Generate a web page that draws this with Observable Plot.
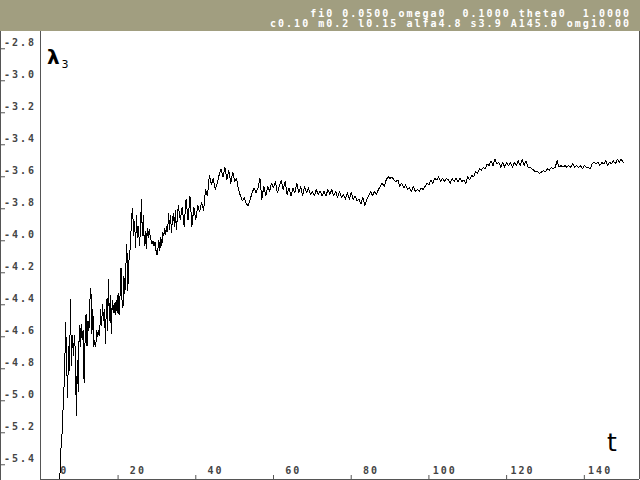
<!DOCTYPE html>
<html><head><meta charset="utf-8">
<script src="https://cdn.jsdelivr.net/npm/d3@7"></script>
<script src="https://cdn.jsdelivr.net/npm/@observablehq/plot@0.6"></script>
<style>
html,body{margin:0;padding:0;background:#fff;}
#hdr{width:640px;height:31px;background:#a19e80;color:#fff;font:bold 10px "DejaVu Sans Mono",monospace;letter-spacing:2px;white-space:pre;text-align:right;box-sizing:border-box;padding:9px 9px 0 0;line-height:10px;}
#chart{position:relative;width:640px;height:449px;}
#chart::before{content:"";position:absolute;left:0;top:0;width:1px;height:449px;background:#555;}
#chart svg{display:block}
#chart svg .mono text, #chart svg text.mono{letter-spacing:2px}
</style></head><body>
<div id="hdr"><div>fi0 0.0500 omega0  0.1000 theta0  1.0000</div><div>c0.10 m0.2 l0.15 alfa4.8 s3.9 A145.0 omg10.00</div></div>
<div id="chart"></div>
<script>
// time sampling
const earlyStart = 0, earlyStep = 0.25;   // t = 0 .. 30
const lateStart = 30.5, lateStep = 0.5;   // t = 30.5 .. 145

// lambda_3 values, t = 0 .. 30 step 0.25
const lambdaEarly = [
  -5.49,-5.31,-5.25,-5.09,-4.97,-4.81,-4.51,-4.75,
  -4.98,-4.66,-4.81,-4.37,-4.78,-4.59,-4.72,-4.59,
  -4.69,-5.09,-4.75,-4.94,-4.53,-4.66,-4.52,-4.62,
  -4.56,-4.89,-4.62,-4.46,-4.66,-4.50,-4.56,-4.37,
  -4.30,-4.58,-4.43,-4.66,-4.62,-4.66,-4.56,-4.60,
  -4.56,-4.59,-4.43,-4.53,-4.40,-4.50,-4.43,-4.64,
  -4.37,-4.56,-4.24,-4.50,-4.34,-4.58,-4.37,-4.45,
  -4.39,-4.46,-4.37,-4.45,-4.33,-4.46,-4.34,-4.17,
  -4.37,-4.42,-4.22,-4.33,-4.16,-4.02,-4.31,-4.13,
  -4.09,-3.98,-3.84,-3.80,-3.97,-3.88,-4.04,-3.84,
  -3.98,-3.91,-4.03,-3.94,-3.74,-3.97,-3.84,-4.03,
  -3.94,-4.05,-3.92,-3.98,-3.93,-3.97,-4.00,-4.02,
  -4.00,-4.03,-4.01,-4.06,-4.09,-4.05,-4.00,-4.06,
  -3.98,-4.03,-3.95,-3.97,-3.92,-3.96,-3.91,-3.94,
  -3.83,-3.93,-3.84,-3.95,-3.86,-3.83,-3.91,-3.81,
  -3.93
];
// lambda_3 values, t = 30.5 .. 145 step 0.5
const lambdaLate = [
  -3.78,-3.87,-3.79,-3.91,-3.74,-3.87,-3.72,-3.91,-3.79,-3.87,
  -3.78,-3.82,-3.76,-3.81,-3.68,-3.72,-3.59,-3.65,-3.61,-3.68,
  -3.64,-3.59,-3.55,-3.60,-3.54,-3.62,-3.56,-3.64,-3.57,-3.63,
  -3.61,-3.68,-3.72,-3.75,-3.73,-3.77,-3.78,-3.74,-3.70,-3.67,
  -3.70,-3.67,-3.61,-3.74,-3.66,-3.72,-3.66,-3.69,-3.64,-3.67,
  -3.63,-3.70,-3.66,-3.62,-3.68,-3.63,-3.71,-3.67,-3.72,-3.67,
  -3.70,-3.64,-3.70,-3.66,-3.72,-3.66,-3.70,-3.67,-3.71,-3.69,
  -3.72,-3.68,-3.71,-3.69,-3.72,-3.69,-3.72,-3.68,-3.71,-3.68,
  -3.72,-3.69,-3.73,-3.69,-3.73,-3.71,-3.74,-3.70,-3.74,-3.70,
  -3.74,-3.72,-3.75,-3.74,-3.77,-3.73,-3.78,-3.74,-3.72,-3.69,
  -3.72,-3.69,-3.71,-3.68,-3.66,-3.64,-3.66,-3.62,-3.60,-3.61,
  -3.60,-3.62,-3.63,-3.62,-3.66,-3.64,-3.67,-3.65,-3.68,-3.67,
  -3.69,-3.66,-3.69,-3.68,-3.69,-3.67,-3.68,-3.66,-3.64,-3.65,
  -3.62,-3.64,-3.61,-3.62,-3.60,-3.63,-3.61,-3.63,-3.61,-3.62,
  -3.64,-3.61,-3.63,-3.61,-3.63,-3.61,-3.63,-3.62,-3.64,-3.60,
  -3.62,-3.59,-3.60,-3.57,-3.58,-3.55,-3.56,-3.54,-3.55,-3.52,
  -3.53,-3.50,-3.53,-3.49,-3.52,-3.51,-3.54,-3.51,-3.54,-3.51,
  -3.53,-3.51,-3.54,-3.51,-3.53,-3.50,-3.53,-3.49,-3.53,-3.50,
  -3.54,-3.54,-3.55,-3.56,-3.57,-3.57,-3.58,-3.57,-3.56,-3.57,
  -3.55,-3.56,-3.54,-3.55,-3.54,-3.50,-3.54,-3.53,-3.54,-3.53,
  -3.54,-3.53,-3.54,-3.52,-3.54,-3.53,-3.54,-3.53,-3.55,-3.53,
  -3.54,-3.54,-3.55,-3.52,-3.51,-3.52,-3.51,-3.53,-3.51,-3.52,
  -3.50,-3.53,-3.51,-3.52,-3.50,-3.52,-3.49,-3.51,-3.49,-3.51
];

// axes
const xDomain = [-4.97, 149.2];
const yDomain = [-5.492, -2.692];
const xTickLabels = [0, 20, 40, 60, 80, 100, 120, 140];
const xTickMarks = [15, 35, 55, 75, 95, 115, 135];
const yTicks = [-2.8,-3.0,-3.2,-3.4,-3.6,-3.8,-4.0,-4.2,-4.4,-4.6,-4.8,-5.0,-5.2,-5.4];

const series = [
  ...lambdaEarly.map((v, i) => ({t: earlyStart + i * earlyStep, v})),
  ...lambdaLate.map((v, i) => ({t: lateStart + i * lateStep, v}))
];

const axisColor = "#555";
const labelFont = {fontFamily: "DejaVu Sans Mono", fontSize: 10, fontWeight: "bold", fill: "#444"};

const chart = Plot.plot({
  width: 640, height: 449,
  marginLeft: 40, marginRight: 1, marginTop: 0, marginBottom: 1,
  x: {domain: xDomain, axis: null},
  y: {domain: yDomain, axis: null},
  style: {background: "transparent", overflow: "visible"},
  marks: [
    Plot.ruleX([xDomain[0], xDomain[1]], {stroke: axisColor}),
    Plot.ruleY([yDomain[0]], {stroke: axisColor}),
    // y tick marks at image left edge
    Plot.axisY(yTicks, {anchor: "left", label: null, tickSize: -5, dx: -40, tickFormat: () => "", stroke: axisColor}),
    // y labels
    Plot.axisY(yTicks, {anchor: "left", label: null, tickSize: 0, tickPadding: 4.5, dy: -6, tickFormat: d => d.toFixed(1), ...labelFont, className: "mono"}),
    // x tick marks
    Plot.axisX(xTickMarks, {anchor: "bottom", label: null, tickSize: -4, tickFormat: () => "", stroke: axisColor}),
    // x labels
    Plot.text(xTickLabels, {x: d => d, text: d => String(d), frameAnchor: "bottom", dy: -9, dx: 8.4, textAnchor: "end", lineAnchor: "middle", ...labelFont, className: "mono"}),
    Plot.line(series, {x: "t", y: "v", stroke: "#000", strokeWidth: 1, clip: true, shapeRendering: "crispEdges"}),
    Plot.text(["λ"], {frameAnchor: "top-left", dx: 6.5, dy: 32, textAnchor: "start", lineAnchor: "bottom", fontFamily: "DejaVu Sans", fontSize: 20, fontWeight: "bold", fill: "#000"}),
    Plot.text(["3"], {frameAnchor: "top-left", dx: 21, dy: 36, textAnchor: "start", lineAnchor: "bottom", fontFamily: "DejaVu Sans", fontSize: 11, fill: "#000"}),
    Plot.text(["t"], {frameAnchor: "top-right", dx: -32.5, dy: 419, textAnchor: "start", lineAnchor: "bottom", fontFamily: "DejaVu Sans", fontSize: 25, fill: "#000"})
  ]
});
document.getElementById("chart").appendChild(chart);
</script>
</body></html>
